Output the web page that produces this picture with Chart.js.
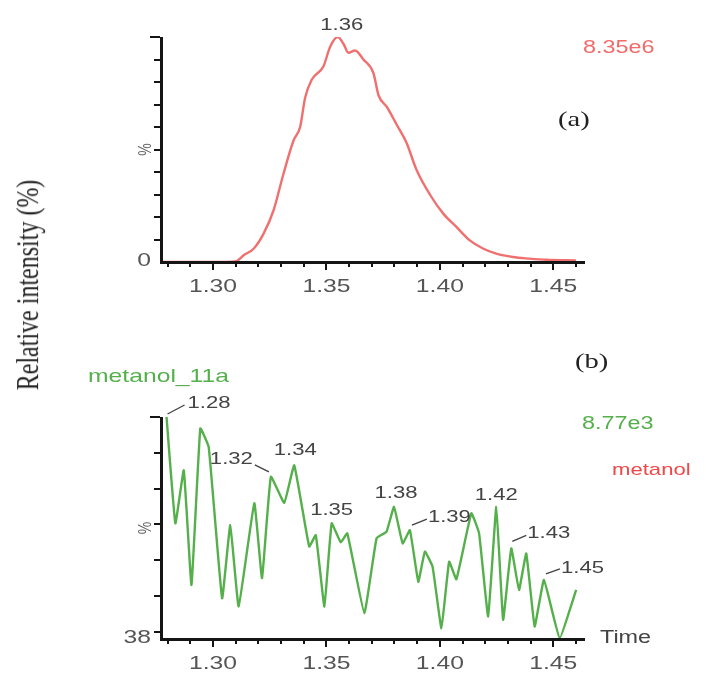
<!DOCTYPE html>
<html>
<head>
<meta charset="utf-8">
<script src="https://cdn.jsdelivr.net/npm/chart.js@4/dist/chart.umd.min.js"></script>
<style>
  html, body { margin: 0; padding: 0; background: #fff; }
  body { width: 715px; height: 673px; overflow: hidden; position: relative; }
  canvas { position: absolute; left: 0; }
  .t { position: absolute; white-space: nowrap; line-height: 1; transform-origin: 0 50%;
       transform: translateY(-50%) scaleX(1.3); font-family: 'Liberation Sans', Arial, sans-serif; }
  .serif { font-family: 'Liberation Serif', 'Times New Roman', serif; color: #222; }
</style>
</head>
<body>
<canvas id="chartA" width="715" height="320" style="top:0"></canvas>
<canvas id="chartB" width="715" height="333" style="top:340px"></canvas>

<div class="t" style="left:583px; top:47px; font-size:18px; color:#f26b6b;">8.35e6</div>
<div class="t serif" style="left:558px; top:119px; font-size:22px;">(a)</div>
<div class="t serif" style="left:575px; top:361px; font-size:22px;">(b)</div>
<div class="t" style="left:88px; top:375px; font-size:19px; color:#55b04c;">metanol_11a</div>
<div class="t" style="left:582px; top:423px; font-size:18px; color:#55b04c;">8.77e3</div>
<div class="t" style="left:612px; top:469px; font-size:17px; color:#f04848;">metanol</div>
<div class="t" style="left:600px; top:637px; font-size:18px; color:#444;">Time</div>
<div class="t serif" style="left:28px; top:285px; font-size:24px; transform-origin: 0 0;
     transform: scaleX(1.3) rotate(-90deg) translate(-50%,-50%);">Relative intensity (%)</div>

<script>
// x axis (retention time, min)
var xMin = 1.2775, xMax = 1.464;
var xTickValues = [1.28, 1.29, 1.30, 1.31, 1.32, 1.33, 1.34, 1.35, 1.36, 1.37, 1.38, 1.39, 1.40, 1.41, 1.42, 1.43, 1.44, 1.45, 1.46];

// (a) trace, red
var timesA = [1.2775, 1.300, 1.310, 1.3135, 1.318, 1.3223, 1.3267, 1.331, 1.3355, 1.3384, 1.3406, 1.3435, 1.3487, 1.3516,
              1.355, 1.3575, 1.3597, 1.3626, 1.3663, 1.3707, 1.373, 1.3766, 1.381, 1.3853, 1.3897, 1.3956, 1.4015,
              1.4073, 1.4132, 1.419, 1.4249, 1.4322, 1.4396, 1.447, 1.460];
var intensityA = [0, 0, 0.3, 3, 6, 12.6, 23, 39, 54, 60, 73, 81, 87, 95.6,
                  100, 97, 93, 94, 90, 84, 74, 69, 61, 53, 41, 30, 21.5,
                  15.6, 9.6, 6, 3.7, 2.2, 1.5, 1, 0.7];
var yTicksA = [0, 10, 20, 30, 40, 50, 60, 70, 80, 90, 100];
var peakTextA = ['1.36'];
var peakTimeA = [1.355];

// (b) trace, green
var timesB = [1.2795, 1.2834, 1.2871, 1.2905, 1.2944, 1.2981, 1.3040, 1.3076, 1.3113, 1.3182, 1.3216, 1.3255, 1.3314,
              1.3358, 1.3424, 1.3453, 1.3491, 1.3523, 1.3563, 1.3592, 1.3667, 1.3721, 1.3765, 1.3798, 1.3836, 1.3868,
              1.3905, 1.3934, 1.3968, 1.4007, 1.4041, 1.4073, 1.4139, 1.4173, 1.4213, 1.4249, 1.4279, 1.4315, 1.4349,
              1.4381, 1.4418, 1.4459, 1.4528, 1.4601];
var intensityB = [100, 70.3, 85.1, 53.1, 96.8, 91.6, 49.4, 69.8, 47.1, 75.9, 55.0, 83.3, 76.0,
                  86.5, 63.8, 67.0, 47.1, 70.3, 65.0, 67.5, 45.2, 66.1, 68.0, 74.9, 64.7, 68.4,
                  54.0, 62.4, 58.2, 41.0, 59.6, 54.7, 73.1, 67.5, 44.3, 74.9, 43.4, 63.3, 51.7,
                  61.9, 41.5, 54.5, 38.3, 51.7];
var yTicksB = [38, 40, 50, 60, 70, 80, 90, 100];
var peakTextB = ['1.28', '1.32', '1.34', '1.35', '1.38', '1.39', '1.42', '1.43', '1.45'];
var peakTimeB = [1.2795, 1.3255, 1.3358, 1.3523, 1.3798, 1.3868, 1.4249, 1.4315, 1.4459];

var sans = "'Liberation Sans', Arial, sans-serif";
var stretch = 1.3;   // the source figure's text is drawn wide

function points(xs, ys) {
    return xs.map(function (x, i) { return { x: x, y: ys[i] }; });
}

// text offsets for the peak labels: [dx, dy, align, leader or null]
var labelLayoutA = [[4, -12, 'center', null]];
var labelLayoutB = [
    [21, -14, 'left', [1, -3, 18, -12]],
    [-18, -17, 'right', [-16, -12, -2, -5]],
    [1, -15, 'center', null],
    [0, -13, 'center', null],
    [2, -14, 'center', null],
    [18, -13, 'left', [2, -5, 17, -11]],
    [0, -12, 'center', null],
    [16, -15, 'left', [1, -7, 15, -13]],
    [17, -12, 'left', [2, -6, 16, -11]]
];

function wideText(ctx, txt, x, y, align) {
    ctx.save();
    ctx.translate(x, y);
    ctx.scale(stretch, 1);
    ctx.textAlign = align;
    ctx.fillText(txt, 0, 0);
    ctx.restore();
}

// axes, tick marks, tick labels, peak labels and the rotated "%"
function decorations(texts, times, layout) {
    return {
        id: 'decorations',
        afterDraw: function (chart) {
            var ctx = chart.ctx;
            var xs = chart.scales.x, ys = chart.scales.y;
            var area = chart.chartArea;
            var ds = chart.data.datasets[0].data;
            var L = Math.round(area.left), B = Math.round(area.bottom);
            ctx.save();
            ctx.setTransform(1, 0, 0, 1, 0, 0);
            ctx.globalAlpha = 1;
            ctx.globalCompositeOperation = 'source-over';
            ctx.setLineDash([]);

            // axis lines and tick marks as filled rectangles
            ctx.fillStyle = '#151515';
            ctx.fillRect(L - 2, B - 1, Math.round(area.right) - L + 2, 3);
            ctx.fillRect(L - 2, Math.round(area.top), 3, B - Math.round(area.top) + 2);
            xs.ticks.forEach(function (t) {
                var px = Math.round(xs.getPixelForValue(t.value));
                var major = Math.round(t.value * 100) % 5 === 0;
                ctx.fillRect(px - 1, B + 1, 2, major ? 7 : 4);
            });
            ys.ticks.forEach(function (t) {
                if (t.value === ys.min) return;
                var py = Math.round(ys.getPixelForValue(t.value));
                var len = t.value === ys.max ? 10 : 6;
                ctx.fillRect(L - 2 - len, py - 1, len, 2);
            });

            // tick labels
            ctx.fillStyle = '#555';
            ctx.font = '19px ' + sans;
            ctx.textBaseline = 'middle';
            xs.ticks.forEach(function (t) {
                if (Math.round(t.value * 100) % 5 === 0) {
                    wideText(ctx, t.value.toFixed(2), xs.getPixelForValue(t.value), area.bottom + 25, 'center');
                }
            });
            wideText(ctx, String(ys.min), area.left - 11, ys.getPixelForValue(ys.min) - 1, 'right');

            // peak labels
            ctx.font = '17px ' + sans;
            ctx.fillStyle = '#444';
            ctx.strokeStyle = '#444';
            ctx.lineWidth = 1.4;
            texts.forEach(function (txt, i) {
                var pt = ds.find(function (p) { return Math.abs(p.x - times[i]) < 1e-6; });
                var px = xs.getPixelForValue(pt.x), py = ys.getPixelForValue(pt.y);
                var l = layout[i];
                wideText(ctx, txt, px + l[0], py + l[1], l[2]);
                if (l[3]) {
                    ctx.beginPath();
                    ctx.moveTo(px + l[3][0], py + l[3][1]);
                    ctx.lineTo(px + l[3][2], py + l[3][3]);
                    ctx.stroke();
                }
            });

            // rotated "%" beside the y axis
            var mid = (ys.min + ys.max) / 2;
            ctx.translate(area.left - 16, ys.getPixelForValue(mid));
            ctx.scale(stretch, 1);
            ctx.rotate(-Math.PI / 2);
            ctx.textAlign = 'center';
            ctx.font = '14px ' + sans;
            ctx.fillStyle = '#666';
            ctx.fillText('%', 0, 0);
            ctx.restore();
        }
    };
}

function makeChart(id, xs, ys, yMin, yMax, yTicks, color, tension, padTop, padBottom, plugin) {
    var ctx = document.getElementById(id).getContext('2d');
    return new Chart(ctx, {
        type: 'line',
        data: {
            datasets: [{
                data: points(xs, ys),
                borderColor: color,
                borderWidth: 2.4,
                pointRadius: 0,
                fill: false,
                tension: tension,
                cubicInterpolationMode: tension > 0.2 ? 'monotone' : 'default'
            }]
        },
        options: {
            responsive: false,
            animation: false,
            devicePixelRatio: 1,
            layout: { padding: { left: 122, right: 130, top: padTop, bottom: padBottom } },
            plugins: { legend: { display: false }, tooltip: { enabled: false } },
            scales: {
                x: {
                    type: 'linear', min: xMin, max: xMax,
                    afterBuildTicks: function (s) { s.ticks = xTickValues.map(function (v) { return { value: v }; }); },
                    afterFit: function (s) { s.height = 30; },
                    grid: { display: false },
                    border: { display: false },
                    ticks: { display: false }
                },
                y: {
                    min: yMin, max: yMax,
                    afterBuildTicks: function (s) { s.ticks = yTicks.map(function (v) { return { value: v }; }); },
                    afterFit: function (s) { s.width = 40; },
                    grid: { display: false },
                    border: { display: false },
                    ticks: { display: false }
                }
            }
        },
        plugins: [plugin]
    });
}

window.onload = function () {
    makeChart('chartA', timesA, intensityA, 0, 100, yTicksA, '#f07070', 0.4, 37, 28,
              decorations(peakTextA, peakTimeA, labelLayoutA));
    makeChart('chartB', timesB, intensityB, 38, 100, yTicksB, '#55b04c', 0.1, 77, 4,
              decorations(peakTextB, peakTimeB, labelLayoutB));
};
</script>
</body>
</html>
